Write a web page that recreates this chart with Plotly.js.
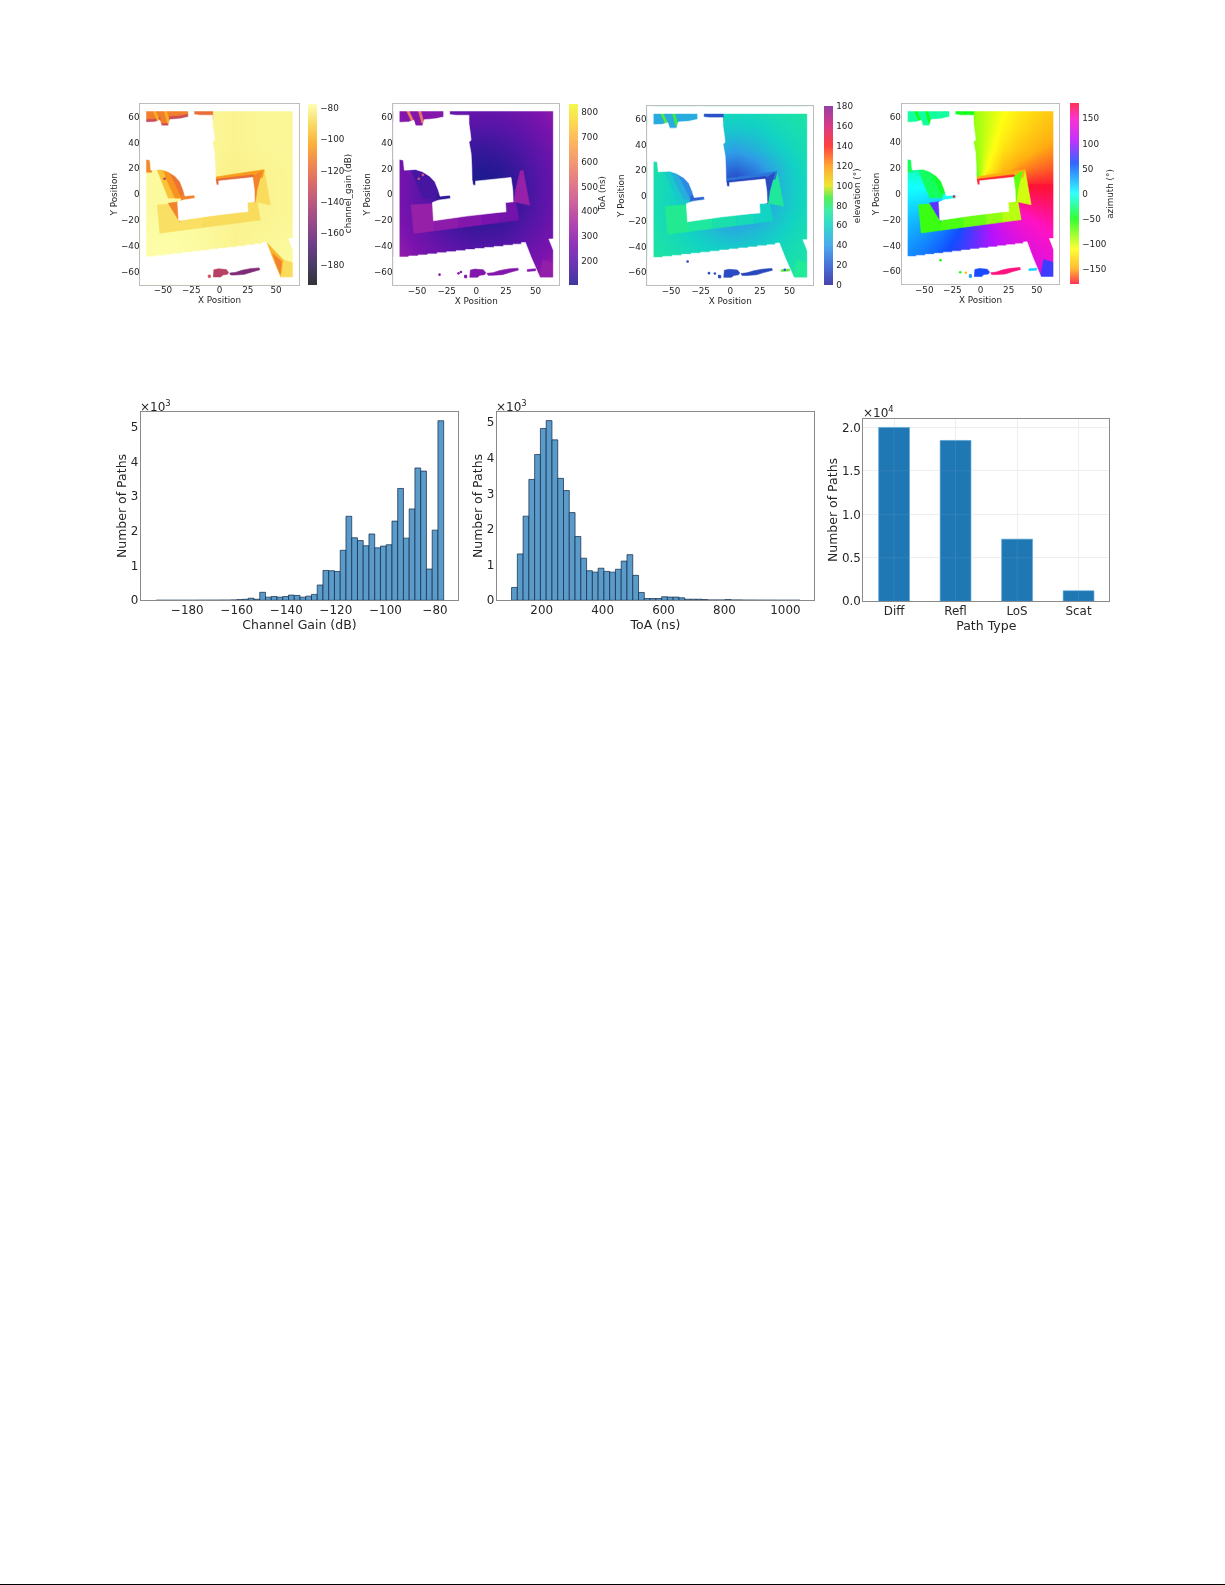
<!DOCTYPE html>
<html><head><meta charset="utf-8">
<script src="https://cdn.plot.ly/plotly-3.0.1.min.js"></script>
<style>html,body{margin:0;padding:0;background:#fff}#p{width:1225px;height:1585px;filter:blur(0.5px)}#rule{position:absolute;left:0;top:1584px;width:1225px;height:1px;background:#000}</style>
</head><body><div id="p"></div><div id="rule"></div>
<script>
// ---------- histogram / bar data ----------
const gainBinStart=-192.5, gainBinWidth=2.32;
const gainCounts=[1,1,1,1,1,1,1,2,2,3,3,5,5,10,20,30,60,30,230,90,110,90,110,150,140,90,120,170,440,860,850,830,1440,2420,1800,1720,1570,1910,1510,1560,1600,2280,3220,1790,2630,3810,3720,900,2020,5170];
const toaBinStart=101, toaBinWidth=18.95;
const toaCounts=[360,1300,2360,3390,4090,4820,5040,4500,3420,3080,2460,1790,1180,830,790,900,810,790,870,1100,1280,700,220,50,50,50,100,90,90,70,30,30,30,20,10,10,10,20,10,10,5,5,3,3,2,2,1,1,1,1];
const pathTypes=['Diff','Refl','LoS','Scat'];
const pathCounts=[20000,18500,7150,1200];

// ---------- coverage-map grids ----------
const gainX=[-65,-39,-13,13,39,65];
const gainY=[65,39,13,-13,-39,-65];
const gainZ=[
[-79,-79,-80,-81,-80,-80],
[-79,-79,-80,-81,-80,-80],
[-79,-79,-80,-82,-81,-80],
[-79,-79,-79,-81,-81,-80],
[-78,-78,-79,-81,-80,-79],
[-78,-78,-78,-79,-79,-79]];
const gridX=[-65,-50,-35,-20,-5,5,20,35,50,65];
const gridY=[65,50,35,20,10,0,-10,-20,-30,-40,-50,-65];
const toaZ=[
[323,288,260,239,227,224,230,245,269,300],
[294,257,224,200,183,180,186,206,236,269],
[272,233,194,164,146,141,151,172,206,245],
[260,215,175,139,117,112,122,151,186,230],
[254,209,167,130,106,101,113,141,180,224],
[254,209,167,130,106,101,113,141,180,224],
[260,215,175,139,117,112,122,151,186,230],
[266,224,186,154,135,130,139,164,197,239],
[279,239,203,175,156,154,161,183,215,251],
[294,257,224,197,183,180,186,206,236,269],
[313,279,248,224,212,209,215,230,257,288],
[345,313,288,266,257,254,260,272,294,323]];
const elevZ=[
[72,70,67,65,64,63,64,66,68,71],
[70,67,63,60,55,54,56,61,65,68],
[68,65,59,52,42,40,46,54,61,66],
[67,62,55,44,24,22,30,44,57,64],
[67,61,53,40,16,9,24,45,56,63],
[67,61,53,40,20,9,28,45,56,63],
[67,62,55,44,31,27,35,49,57,64],
[68,63,57,49,42,40,44,52,60,65],
[69,65,60,55,50,49,52,57,62,67],
[70,67,63,60,57,56,57,61,65,68],
[71,69,66,63,62,61,62,64,67,70],
[73,71,70,68,67,67,67,68,70,72]];
const azUpY=[65,50,35,20,10,5];
const azUpZ=[
[-43,-50,-60,-72,-85,-95,-108,-120,-130,-137],
[-35,-42,-52,-66,-84,-96,-114,-128,-138,-145],
[-25,-31,-41,-56,-81,-99,-124,-139,-149,-155],
[-13,-17,-23,-37,-72,-108,-143,-157,-163,-167],
[-4,-6,-8,-14,-45,-135,-166,-172,-174,-176],
[0,0,0,0,0,-180,-180,-180,-180,-180]];
const azLowY=[5,0,-10,-20,-30,-40,-50,-65];
const azLowZ=[
[0,0,0,0,0,180,180,180,180,180],
[4,6,8,14,45,135,166,172,174,176],
[13,17,23,37,72,108,143,157,163,167],
[21,27,36,51,79,101,129,144,153,159],
[28,35,45,60,82,98,120,135,145,152],
[35,42,52,66,84,96,114,128,138,145],
[40,48,58,70,85,95,110,122,132,140],
[47,54,63,74,86,94,106,117,126,133]];

// ---------- map regions, in data coordinates ----------
const maskBig=[[-70,55.4],[-65.7,55.4],[-57.1,55.9],[-52.7,57.2],[-51.2,52.9],[-45.3,52.9],[-43.8,57.7],[-34.9,58.3],[-27.5,59.8],[-27.5,70],[-22.5,70],[-22.5,61.6],[-17.2,61.1],[-6.2,61.1],[-6.2,54.7],[-5,46.9],[-4.4,41.8],[-6.2,40.5],[-4.4,31.5],[-3.8,21.2],[-3.6,11.5],[-2.7,7.1],[-0.6,7.1],[-0.6,10.2],[12.4,11.5],[29.3,13],[30.8,3.2],[31.1,-5.8],[24.6,-6.3],[25.1,-13.5],[18.3,-14],[-8.3,-16.8],[-36.1,-20.4],[-37,-6.3],[-32,-4.5],[-21.6,-3.2],[-22.2,-0.6],[-30.5,-1.4],[-32,3.2],[-34.9,9.7],[-39.3,14],[-45.3,17.4],[-51.2,19.2],[-57.1,19.2],[-60.7,18.7],[-61.5,26.4],[-65.1,27.1],[-70,27.1]];
const maskBottom=[[-70,-48.4],[-57,-48.4],[-57,-47.6],[-49,-47.6],[-49,-46.8],[-41,-46.8],[-41,-46],[-33,-46],[-33,-45.1],[-25,-45.1],[-25,-44.3],[-17,-44.3],[-17,-43.5],[-9,-43.5],[-9,-42.6],[-1,-42.6],[-1,-41.8],[7,-41.8],[7,-41],[15,-41],[15,-40.2],[23,-40.2],[23,-39.3],[31,-39.3],[31,-38.5],[38,-38.5],[38,-37.3],[41.4,-37.1],[46,-48],[50,-57],[53.8,-64.4],[70,-64.4],[70,-70],[-70,-70]];
const maskNotch=[[61.2,-34.5],[70,-34.5],[70,-43],[65,-43]];
const maskTop=[[-70,64.4],[70,64.4],[70,70],[-70,70]];
const maskLeft=[[-70,-70],[-65,-70],[-65,70],[-70,70]];
const maskRight=[[65,-70],[70,-70],[70,70],[65,70]];
const masks=[maskBig,maskBottom,maskNotch,maskTop,maskLeft,maskRight];

const topA=[[-66,50],[-27,50],[-27,66],[-66,66]];
const topB=[[-24,58],[-6,58],[-6,66],[-24,66]];
const topEdge=[[-66,57.5],[-57,58],[-52.5,59.5],[-52.5,54.5],[-45,54.5],[-44,60],[-35,60.5],[-27,61.8],[-27,50],[-66,50]];
const stripe1=[[-59,65],[-57,65],[-52,55],[-54,55]];
const stripe2=[[-49,65],[-47,65],[-44,55],[-46,55]];
const leftStrip=[[-66,17],[-60,17],[-60,28],[-66,28]];
const arcOuter=[[-56,21],[-44,21],[-28,8],[-27,-3],[-45.3,-3],[-49.7,7.1],[-54.1,17.4]];
const arcMid=[[-49.7,21],[-44,21],[-28,8],[-27,-3],[-39.3,-3],[-45.3,8.4],[-49.7,18.7]];
const arcInner=[[-43.8,21],[-36,16],[-28,8],[-27,-3],[-33.4,-3],[-38.5,7.1],[-43.8,16.6]];
const sliver=[[-33,0],[-20,0],[-20,-4],[-34,-5]];
const wedgeLeft=[[-45.3,-7],[-37,-6],[-35,-21],[-35.5,-21]];
const band1=[[-55,-8.3],[-35,-7],[-35,-28.1],[-52.7,-30.2]];
const band2=[[-35,-7],[-15,-7],[-15,-25.8],[-35,-28.1]];
const band3=[[-15,-7],[5,-7],[5,-23.5],[-15,-25.8]];
const band4=[[5,-7],[20,-7],[20,-21.8],[5,-23.5]];
const band5=[[20,-7],[25,-6.5],[33.1,-5.2],[36.1,-19.9],[20,-21.8]];
const tower=[[37,17.9],[39.5,18.7],[45,-8.3],[31.7,-5.8],[33.1,3.2]];
const roofStrip=[[-3,13.3],[10,15],[25,17],[39.5,19],[38,13],[-3,6]];
const roofInner=[[-3,11.5],[29.3,15],[33,13],[-3,6]];
const shadowRight=[[29,13],[37.5,18],[33.1,3.2],[31.7,-6],[30,-6]];
const blockBR=[[56.2,-50.7],[65.5,-53.3],[65.5,-65],[53,-65]];
const wedgeBR=[[41.4,-37.1],[50,-45],[56.2,-50.7],[53.8,-64.4],[50,-60],[45,-50]];
const wedgeBRIn=[[47,-46],[55,-52],[53.8,-62],[50,-54]];
const isle1=[[-5,-58.5],[-1,-57.7],[6,-58.3],[8,-60.5],[7,-62],[3,-62.5],[1,-64],[-5.5,-64]];
const isle2=[[9,-61],[14,-60.5],[20,-58.8],[27,-57.6],[35,-57],[35.5,-58.5],[28,-60.3],[22,-62],[14,-62.5],[10,-62.5]];
const isle3=[[-10,-62.5],[-8,-62.5],[-8,-64.5],[-10,-64.5]];
const streak=[[43,-58],[50,-57.5],[50,-59],[43,-59.5]];

// value of each region, per map
const gainRegions=[[topA,-113],[topEdge,-132],[topB,-118],[stripe1,-100],[stripe2,-100],[leftStrip,-110],[band1,-87],[band2,-87],[band3,-88],[band4,-88],[band5,-88],[tower,-88],[arcOuter,-95],[arcMid,-107],[arcInner,-116],[sliver,-112],[wedgeLeft,-112],[roofStrip,-105],[roofInner,-120],[shadowRight,-112],[blockBR,-88],[wedgeBR,-98],[wedgeBRIn,-112]];
const gainIsles=[[isle1,-138],[isle2,-155],[isle3,-130]];
const gainDots=[[-48.5,12,-140]];
const toaRegions=[[topA,280],[topB,225],[stripe1,590],[stripe2,560],[leftStrip,240],[band1,320],[band2,300],[band3,280],[band4,260],[band5,245],[tower,320],[arcOuter,165],[sliver,130],[blockBR,310]];
const toaIsles=[[isle1,280],[isle2,280],[isle3,280],[streak,280]];
const toaDots=[[-31,-62,290],[-15,-61,290],[-13,-60,290],[-9,-63,290],[-48.5,12,460],[-45,15,460]];
const elevRegions=[[topA,45],[topB,16],[stripe1,90],[stripe2,88],[leftStrip,68],[band1,76],[band2,73],[band3,68],[band4,64],[band5,60],[tower,74],[arcOuter,56],[arcMid,46],[arcInner,34],[sliver,22],[roofStrip,28],[roofInner,12],[shadowRight,14],[blockBR,75]];
const elevIsles=[[isle1,14],[isle2,12],[isle3,12],[streak,90]];
const elevDots=[[-36,-51.6,12],[-18,-60.7,14],[-13,-61,14],[-9.3,-63,14],[46,-58,20]];
const azRegions=[[topA,-20],[topB,-48],[stripe1,-50],[stripe2,-50],[leftStrip,-35],[band1,-60],[band2,-64],[band3,-72],[band4,-82],[band5,-92],[tower,-98],[arcOuter,-34],[arcInner,-44],[sliver,-2],[wedgeLeft,80],[roofStrip,-150],[roofInner,-176],[shadowRight,-70],[blockBR,72]];
const azIsles=[[isle1,62],[isle2,165],[isle3,40],[streak,15]];
const azDots=[[-35.5,-51.4,-50],[-18,-60.7,-50],[-13,-61,-140],[-9,-64,30],[-23.5,-2,-178]];

// ---------- tick labels ----------
const mapTicks=[-50,-25,0,25,50], mapYTicks=[-60,-40,-20,0,20,40,60];
const gainBarTicks=[-180,-160,-140,-120,-100,-80];
const toaBarTicks=[200,300,400,500,600,700,800];
const elevBarTicks=[0,20,40,60,80,100,120,140,160,180];
const azBarTicks=[-150,-100,-50,0,50,100,150];

// ---------- colours ----------
const infernoStops=['#000004','#1b0c41','#4a0c6b','#781c6d','#a52c60','#cf4446','#ed6925','#fb9b06','#f7d13d','#fcffa4'];
const plasmaStops=['#0d0887','#46039f','#7201a8','#9c179e','#bd3786','#d8576b','#ed7953','#fb9f3a','#fdca26','#f0f921'];
const elevStops=['#1a1496','#1a50d0','#1f96e6','#00d0c0','#10e890','#30e830','#e8e000','#ff9000','#ff1010','#d00a68','#7a1090'];
const elevStopAt=[0,20/180,40/180,60/180,75/180,88/180,100/180,120/180,140/180,160/180,1];
const rainbowStops=['#ff0029','#ffa800','#ffff00','#00ff00','#00ffff','#0040ff','#b000ff','#ff00c0','#ff0029'];
const rainbowAt=[0,30/360,70/360,130/360,180/360,240/360,285/360,330/360,1];
function rgb(h,alpha){return [1,3,5].map(i=>parseInt(h.slice(i,i+2),16)*alpha+255*(1-alpha));}
function scaleOf(stops,at,alpha){return stops.map((c,i)=>[at?at[i]:i/(stops.length-1),'rgb('+rgb(c,alpha).map(Math.round).join(',')+')']);}
function colorOf(scale,v,lo,hi){
  const t=Math.min(1,Math.max(0,(v-lo)/(hi-lo)));
  for(let i=1;i<scale.length;i++){ if(t<=scale[i][0]){
    const f=(t-scale[i-1][0])/(scale[i][0]-scale[i-1][0]);
    const a=scale[i-1][1].match(/\d+/g).map(Number), b=scale[i][1].match(/\d+/g).map(Number);
    return 'rgb('+a.map((x,k)=>Math.round(x+(b[k]-x)*f)).join(',')+')';
  }}
  return scale[scale.length-1][1];
}
const MAP_ALPHA=0.93, BAR_ALPHA=0.8;

// ---------- layout in pixels ----------
const W=1225,H=1585,FONT='"DejaVu Sans", sans-serif',INK='#262626';
const fx=p=>p/W, fy=p=>1-p/H;
const mapBoxes=[[140.3,298.7,103.7,284.7],[393.3,559.3,103.7,285],[647.3,813.3,106.3,285],[901.7,1059.3,103.7,284.3]];
const barBoxes=[[308.3,317.3,103.7,284.7],[569.3,578.7,103.7,285],[823.7,832.7,106,285],[1069.7,1079,103.3,284.3]];
const barTitleX=[348,602.7,856.7,1110];
const barTitles=['channel_gain (dB)','ToA (ns)','elevation (°)','azimuth (°)'];
const histBoxes=[[140.7,458.3,411.7,600.3],[496.7,814.3,411.7,600.3],[863.3,1109.3,418.7,601.3]];
const MAPFONT=8.8;

const traces=[], layout={width:W,height:H,margin:{l:0,r:0,t:0,b:0},paper_bgcolor:'#fff',plot_bgcolor:'#fff',showlegend:false,hovermode:false,bargap:0,
  font:{family:FONT,color:INK},annotations:[],shapes:[]};

function poly(points,color,xa,ya){
  traces.push({type:'scatter',mode:'lines',x:points.map(p=>p[0]).concat(points[0][0]),y:points.map(p=>p[1]).concat(points[0][1]),
    fill:'toself',fillcolor:color,line:{color:color,width:0.6},xaxis:xa,yaxis:ya,hoverinfo:'skip'});
}
function addMap(i,cfg){
  const n=i+1, xa='x'+(n===1?'':n), ya='y'+(n===1?'':n), b=mapBoxes[i], c=barBoxes[i];
  const scale=scaleOf(cfg.stops,cfg.at,MAP_ALPHA);
  const cb={x:fx(c[0]),xanchor:'left',xpad:0,y:fy(c[2]),yanchor:'top',ypad:0,len:(c[3]-c[2])/H,lenmode:'fraction',thickness:c[1]-c[0],thicknessmode:'pixels',
    outlinewidth:0,tickvals:cfg.ticks,ticks:'outside',ticklen:2,tickcolor:'rgba(255,255,255,0)',tickfont:{size:MAPFONT,family:FONT,color:INK}};
  // the colour bar shows the paler, unstacked colours; this trace sits behind the map and only carries it
  traces.push({type:'heatmap',x:[0,1],y:[0,1],z:[[cfg.lo,cfg.hi],[cfg.lo,cfg.hi]],zmin:cfg.lo,zmax:cfg.hi,colorscale:scaleOf(cfg.stops,cfg.at,BAR_ALPHA),
    showscale:true,colorbar:cb,xaxis:xa,yaxis:ya,hoverinfo:'skip'});
  cfg.grids.forEach(g=>traces.push({type:'heatmap',x:g.x,y:g.y,z:g.z,zmin:cfg.lo,zmax:cfg.hi,colorscale:scale,zsmooth:'best',
    showscale:false,xaxis:xa,yaxis:ya,hoverinfo:'skip'}));
  cfg.regions.forEach(r=>poly(r[0],colorOf(scale,r[1],cfg.lo,cfg.hi),xa,ya));
  masks.forEach(m=>poly(m,'#ffffff',xa,ya));
  cfg.isles.forEach(r=>poly(r[0],colorOf(scale,r[1],cfg.lo,cfg.hi),xa,ya));
  traces.push({type:'scatter',mode:'markers',x:cfg.dots.map(d=>d[0]),y:cfg.dots.map(d=>d[1]),
    marker:{size:2.6,color:cfg.dots.map(d=>colorOf(scale,d[2],cfg.lo,cfg.hi))},xaxis:xa,yaxis:ya,hoverinfo:'skip'});
  layout['xaxis'+(n===1?'':n)]={domain:[fx(b[0]),fx(b[1])],range:[-70,70],anchor:ya,tickvals:mapTicks,showgrid:false,zeroline:false,
    showline:true,mirror:true,linecolor:'#bdbdbd',linewidth:1,ticks:'',ticklabelstandoff:-3,
    tickfont:{size:MAPFONT},title:{text:'X Position',font:{size:MAPFONT},standoff:2}};
  layout['yaxis'+(n===1?'':n)]={domain:[fy(b[3]),fy(b[2])],range:[-70,70],anchor:xa,tickvals:mapYTicks,showgrid:false,zeroline:false,
    showline:true,mirror:true,linecolor:'#bdbdbd',linewidth:1,ticks:'',ticklabelstandoff:-2,
    tickfont:{size:MAPFONT},title:{text:'Y Position',font:{size:MAPFONT},standoff:1}};
  layout.annotations.push({xref:'paper',yref:'paper',x:fx(barTitleX[i]),y:fy((c[2]+c[3])/2),text:barTitles[i],textangle:-90,showarrow:false,
    xanchor:'center',yanchor:'middle',font:{size:MAPFONT,family:FONT,color:INK}});
}
addMap(0,{stops:infernoStops,lo:-192.7,hi:-77.5,ticks:gainBarTicks,grids:[{x:gainX,y:gainY,z:gainZ}],regions:gainRegions,isles:gainIsles,dots:gainDots});
addMap(1,{stops:plasmaStops,lo:102,hi:835,ticks:toaBarTicks,grids:[{x:gridX,y:gridY,z:toaZ}],regions:toaRegions,isles:toaIsles,dots:toaDots});
addMap(2,{stops:elevStops,at:elevStopAt,lo:0,hi:180,ticks:elevBarTicks,grids:[{x:gridX,y:gridY,z:elevZ}],regions:elevRegions,isles:elevIsles,dots:elevDots});
addMap(3,{stops:rainbowStops,at:rainbowAt,lo:-180,hi:180,ticks:azBarTicks,grids:[{x:gridX,y:azUpY,z:azUpZ},{x:gridX,y:azLowY,z:azLowZ}],regions:azRegions,isles:azIsles,dots:azDots});

const HTICK=11.9, HTITLE=12.5;
function histAxes(n,b,xopts,yopts,linecolor){
  const k=n;
  layout['xaxis'+k]=Object.assign({domain:[fx(b[0]),fx(b[1])],anchor:'y'+k,showgrid:false,zeroline:false,showline:true,mirror:true,linecolor:linecolor,linewidth:1,
    ticks:'',ticklabelstandoff:-2,tickfont:{size:HTICK}},xopts);
  layout['yaxis'+k]=Object.assign({domain:[fy(b[3]),fy(b[2])],anchor:'x'+k,showgrid:false,zeroline:false,showline:true,mirror:true,linecolor:linecolor,linewidth:1,
    ticks:'',ticklabelstandoff:-1,tickfont:{size:HTICK}},yopts);
}
const histFill='rgb(91,155,201)', histEdge='rgba(18,42,72,0.9)';
function hist(n,start,width,counts){
  traces.push({type:'bar',x:counts.map((_,i)=>start+(i+0.5)*width),y:counts,width:width,marker:{color:histFill,line:{color:histEdge,width:0.8}},xaxis:'x'+n,yaxis:'y'+n,hoverinfo:'skip'});
}
hist(5,gainBinStart,gainBinWidth,gainCounts);
hist(6,toaBinStart,toaBinWidth,toaCounts);
traces.push({type:'bar',x:pathTypes,y:pathCounts,width:0.5,marker:{color:'#1f77b4',line:{color:'#4a9bd0',width:0.6}},xaxis:'x7',yaxis:'y7',hoverinfo:'skip'});

const countTicks=[0,1000,2000,3000,4000,5000], countLabels=['0','1','2','3','4','5'];
const typeTicks=[0,5000,10000,15000,20000], typeLabels=['0.0','0.5','1.0','1.5','2.0'];
const ttl=(t,s)=>({text:t,font:{size:HTITLE},standoff:s});
histAxes(5,histBoxes[0],{range:[-198.8,-70.6],tickvals:[-180,-160,-140,-120,-100,-80],title:ttl('Channel Gain (dB)',1)},
  {range:[0,5430],tickvals:countTicks,ticktext:countLabels,title:ttl('Number of Paths',1)},'#8a8a8a');
histAxes(6,histBoxes[1],{range:[52.2,1095],tickvals:[200,400,600,800,1000],title:ttl('ToA (ns)',1)},
  {range:[0,5290],tickvals:countTicks,ticktext:countLabels,title:ttl('Number of Paths',1)},'#8a8a8a');
histAxes(7,histBoxes[2],{type:'category',categoryorder:'array',categoryarray:pathTypes,range:[-0.5,3.5],showgrid:true,gridcolor:'#eeeeee',title:ttl('Path Type',1)},
  {range:[0,21000],tickvals:typeTicks,ticktext:typeLabels,showgrid:true,gridcolor:'#eeeeee',title:ttl('Number of Paths',1)},'#8a8a8a');
// faint grid showing through the bars of the path-type panel
typeTicks.slice(1).forEach(v=>layout.shapes.push({type:'line',xref:'x7',yref:'y7',x0:-0.5,x1:3.5,y0:v,y1:v,layer:'above',line:{color:'rgba(255,255,255,0.08)',width:1}}));
[0,1,2,3].forEach(v=>layout.shapes.push({type:'line',xref:'x7',yref:'y7',x0:v,x1:v,y0:0,y1:21000,layer:'above',line:{color:'rgba(255,255,255,0.08)',width:1}}));

[[137.7,405.7,'×10<sup>3</sup>'],[494.3,405.7,'×10<sup>3</sup>'],[861.3,412,'×10<sup>4</sup>']].forEach(a=>layout.annotations.push({
  xref:'paper',yref:'paper',x:fx(a[0]),y:fy(a[1]),text:a[2],showarrow:false,xanchor:'left',yanchor:'middle',font:{size:12,family:FONT,color:INK}}));

Plotly.newPlot('p',traces,layout,{displayModeBar:false,staticPlot:true,responsive:false});
</script></body></html>
